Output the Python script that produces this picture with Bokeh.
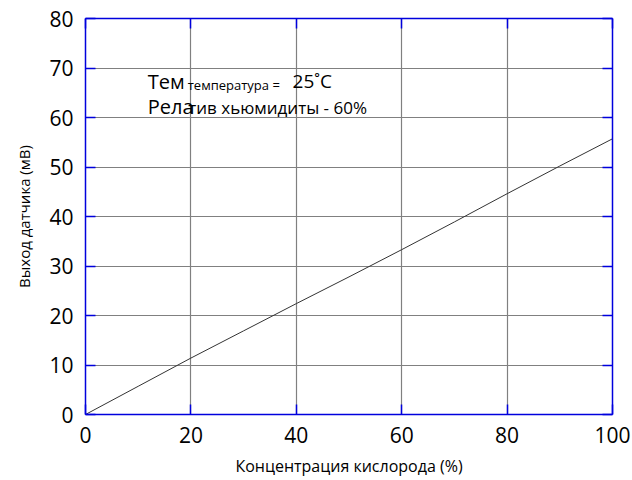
from bokeh.plotting import figure
from bokeh.models import LinearAxis, Label, FixedTicker, CustomJSTickFormatter, Range1d
from bokeh.embed import file_html
from bokeh.resources import INLINE

# data
concentration = [0, 10, 20, 30, 40, 50, 60, 70, 80, 90, 100]
output_mv = [0, 5.7, 11.4, 16.9, 22.4, 27.8, 33.3, 38.9, 44.6, 50.2, 55.7]
x_ticks = [0, 20, 40, 60, 80, 100]
y_ticks = [0, 10, 20, 30, 40, 50, 60, 70, 80]
x_title = "Концентрация кислорода (%)"
y_title = "Выход датчика (мВ)"

FONT = "Open Sans"
BLUE = "#0000dd"

p = figure(width=632, height=480, output_backend="svg", toolbar_location=None,
           x_range=Range1d(0, 100), y_range=Range1d(0, 80),
           min_border_left=85, min_border_right=20, min_border_top=18,
           min_border_bottom=66, x_axis_location="below", y_axis_location="left")
p.outline_line_color = None
p.background_fill_color = "white"
p.border_fill_color = "white"

p.line(concentration, output_mv, line_color="#333333", line_width=1)

for ax in p.xaxis + p.yaxis:
    ax.axis_line_color = BLUE
    ax.axis_line_width = 1.5
    ax.major_tick_line_color = BLUE
    ax.major_tick_line_width = 1.5
    ax.major_tick_in = 10
    ax.major_tick_out = 0
    ax.minor_tick_line_color = None
    ax.major_label_text_font = FONT
    ax.major_label_text_font_size = "21px"
    ax.major_label_text_color = "black"
    ax.axis_label_text_font = FONT
    ax.axis_label_text_font_size = "15px"
    ax.axis_label_text_font_style = "normal"
    ax.axis_label_text_color = "black"
    ax.major_label_standoff = 12

p.xaxis.ticker = FixedTicker(ticks=x_ticks)
p.yaxis.ticker = FixedTicker(ticks=y_ticks)
p.xaxis.axis_label = x_title
p.yaxis.axis_label = y_title
p.xaxis.axis_label_text_font_size = "16px"
p.xaxis.axis_label_standoff = 9
p.yaxis.axis_label_standoff = 12

blank = CustomJSTickFormatter(code="return ''")
top = LinearAxis(ticker=FixedTicker(ticks=x_ticks), formatter=blank)
right = LinearAxis(ticker=FixedTicker(ticks=y_ticks), formatter=blank)
for ax in (top, right):
    ax.axis_line_color = BLUE
    ax.axis_line_width = 1.5
    ax.major_tick_line_color = BLUE
    ax.major_tick_line_width = 1.5
    ax.major_tick_in = 10
    ax.major_tick_out = 0
    ax.minor_tick_line_color = None
    ax.major_label_standoff = 0
    ax.major_label_text_font_size = "1px"
p.add_layout(top, "above")
p.add_layout(right, "right")

p.xgrid.ticker = FixedTicker(ticks=x_ticks[1:-1])
p.ygrid.ticker = FixedTicker(ticks=y_ticks[1:-1])
p.xgrid.grid_line_color = "#808080"
p.ygrid.grid_line_color = "#808080"
p.xgrid.grid_line_width = 1.2
p.ygrid.grid_line_width = 1.2

def lab(x, y, text, size):
    p.add_layout(Label(x=x, y=y, text=text, text_font=FONT, text_font_size=size,
                       text_color="black", text_baseline="alphabetic", text_align="left"))

lab(11.8, 67.3, "Тем", "20px")
lab(19.4, 66.5, "температура =", "13px")
lab(39.3, 67.3, "25˚C", "19px")
lab(11.8, 62.3, "Рела", "20px")
lab(19.5, 62.0, "тив хьюмидиты - 60%", "17px")

open("out.html", "w").write(file_html(p, INLINE))
